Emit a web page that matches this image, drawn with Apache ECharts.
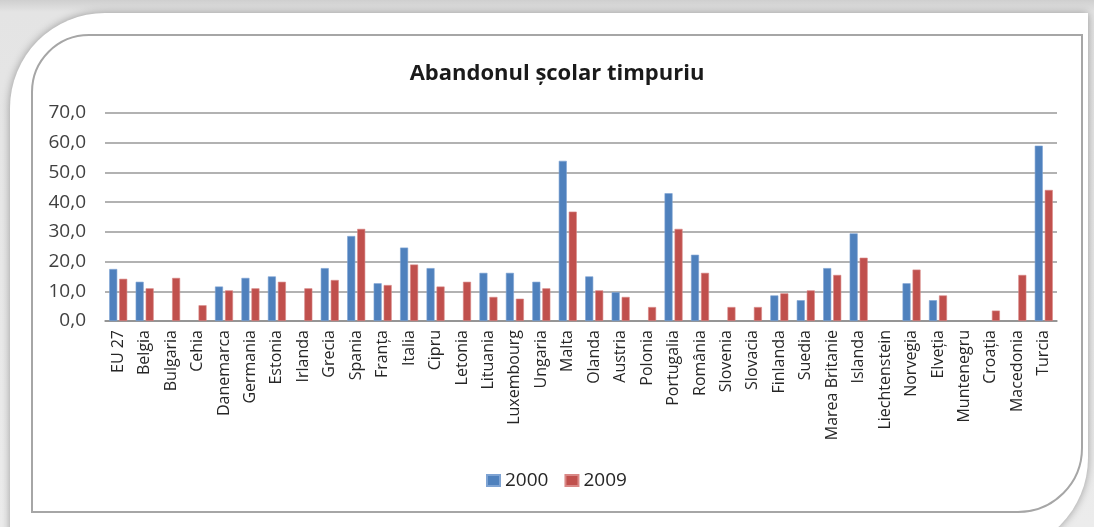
<!DOCTYPE html>
<html>
<head>
<meta charset="utf-8">
<script src="https://cdn.jsdelivr.net/npm/echarts@6/dist/echarts.min.js"></script>
<style>
  html, body { margin: 0; padding: 0; width: 1094px; height: 527px; overflow: hidden; }
  body { background: linear-gradient(#cfcfcf, #e4e4e4 12px, #ececec); }
  .card {
    position: absolute; left: 10px; top: 13px; width: 1078px; height: 540px;
    background: #fff; border-radius: 95px 0 95px 0;
    box-shadow: 0 0 8px rgba(0, 0, 0, 0.35);
  }
  #chart {
    position: absolute; left: 31px; top: 34px; width: 1052px; height: 479px;
    box-sizing: border-box; border: 2px solid #a6a6a6; border-radius: 58px 0 65px 0;
    background: #fff;
  }
</style>
</head>
<body>
<div class="card"></div>
<div id="chart"></div>
<script>
// categories (countries)
var countries = ['EU 27', 'Belgia', 'Bulgaria', 'Cehia', 'Danemarca', 'Germania', 'Estonia', 'Irlanda',
  'Grecia', 'Spania', 'Franța', 'Italia', 'Cipru', 'Letonia', 'Lituania', 'Luxembourg', 'Ungaria',
  'Malta', 'Olanda', 'Austria', 'Polonia', 'Portugalia', 'România', 'Slovenia', 'Slovacia', 'Finlanda',
  'Suedia', 'Marea Britanie', 'Islanda', 'Liechtenstein', 'Norvegia', 'Elveția', 'Muntenegru',
  'Croația', 'Macedonia', 'Turcia']

var values2000 = [17.5, 13.2, null, null, 11.6, 14.5, 15.0, null, 17.8, 28.6, 12.7, 24.7, 17.8, null,
  16.2, 16.2, 13.2, 53.9, 15.0, 9.7, null, 43.0, 22.3, null, null, 8.6, 7.0, 17.8, 29.5, null,
  12.7, 7.0, null, null, null, 59.0]

var values2009 = [14.2, 11.0, 14.5, 5.3, 10.3, 11.0, 13.2, 11.0, 13.8, 31.0, 12.1, 19.0, 11.6, 13.2,
  8.1, 7.5, 11.0, 36.8, 10.3, 8.1, 4.7, 31.0, 16.2, 4.7, 4.7, 9.3, 10.3, 15.5, 21.3, null,
  17.3, 8.6, null, 3.5, 15.5, 44.1]

var seriesNames = ['2000', '2009']
var titleText = 'Abandonul școlar timpuriu'

var font = 'Open Sans'
var chart = echarts.init(document.getElementById('chart'))

chart.setOption({
  animation: false,
  title: {
    text: titleText,
    left: 'center',
    top: 22,
    textStyle: { fontFamily: font, fontSize: 22, fontWeight: 'bold', color: '#1a1a1a' }
  },
  legend: {
    data: seriesNames,
    icon: 'rect',
    left: 448,
    top: 430,
    itemWidth: 13,
    itemHeight: 11,
    itemGap: 16,
    textStyle: { fontFamily: font, fontSize: 19, color: '#262626' }
  },
  grid: {
    left: 72,
    right: 24,
    top: 77,
    bottom: 190
  },
  xAxis: {
    type: 'category',
    data: countries,
    axisTick: { show: false },
    axisLine: { lineStyle: { color: '#8c8c8c', width: 1.5 } },
    axisLabel: {
      rotate: 90,
      margin: 9,
      interval: 0,
      fontFamily: font,
      fontSize: 16,
      color: '#262626'
    }
  },
  yAxis: {
    type: 'value',
    min: 0,
    max: 70,
    interval: 10,
    axisLine: { show: false },
    axisTick: { show: false },
    splitLine: { lineStyle: { color: '#999', width: 1.5 } },
    axisLabel: {
      margin: 19,
      fontFamily: font,
      fontSize: 19,
      color: '#404040',
      formatter: function (v) { return v.toFixed(1).replace('.', ',') }
    }
  },
  series: [
    {
      name: seriesNames[0],
      type: 'bar',
      data: values2000,
      barWidth: 8,
      barGap: '25%',
      itemStyle: { color: '#4f81bd', borderColor: '#7ea3d3', borderWidth: 0.6 }
    },
    {
      name: seriesNames[1],
      type: 'bar',
      data: values2009,
      barWidth: 8,
      itemStyle: { color: '#c0504d', borderColor: '#d98886', borderWidth: 0.6 }
    }
  ]
})
</script>
</body>
</html>
